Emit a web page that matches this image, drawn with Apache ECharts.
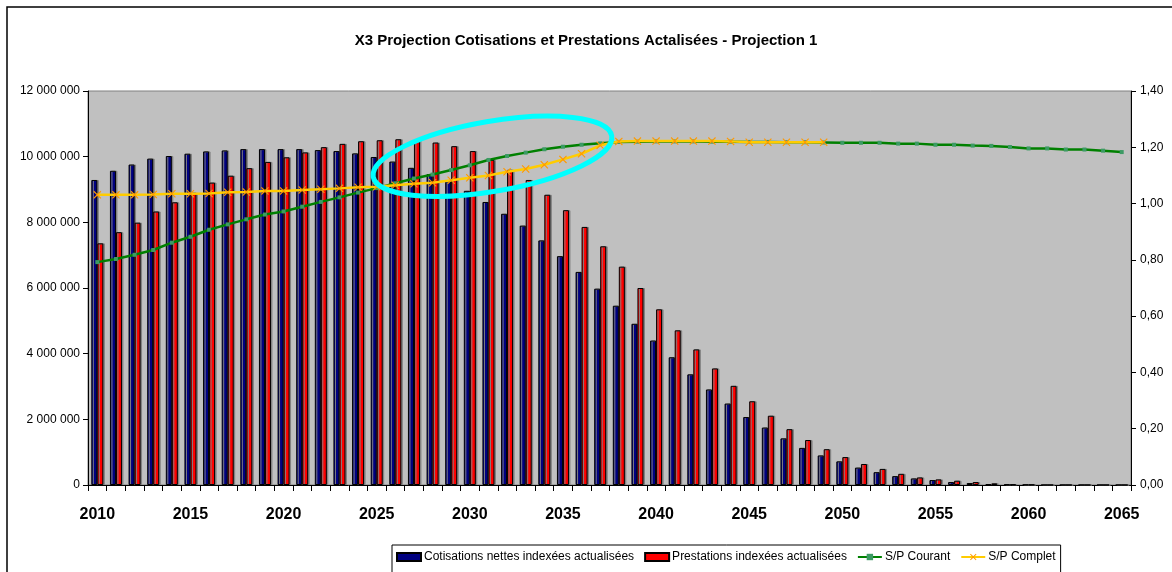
<!DOCTYPE html>
<html>
<head>
<meta charset="utf-8">
<title>X3 Projection Cotisations et Prestations</title>
<script src="https://cdn.jsdelivr.net/npm/echarts@6/dist/echarts.min.js"></script>
<style>
  html, body { margin: 0; padding: 0; background: #ffffff; }
  #chart { width: 1172px; height: 572px; }
</style>
</head>
<body>
<div id="chart"></div>
<script>
// Projection years
const years = [];
for (let y = 2010; y <= 2065; y++) years.push(String(y));

// Cotisations nettes indexées actualisées (in euros)
const cotisations = [
  9290000, 9570000, 9760000, 9940000, 10020000, 10090000, 10160000, 10190000, 10230000, 10230000,
  10230000, 10230000, 10200000, 10170000, 10100000, 9990000, 9850000, 9660000, 9470000, 9250000,
  8960000, 8620000, 8260000, 7900000, 7450000, 6970000, 6490000, 5980000, 5460000, 4910000,
  4400000, 3890000, 3370000, 2910000, 2480000, 2070000, 1750000, 1420000, 1130000, 900000,
  720000, 530000, 390000, 270000, 200000, 150000, 90000, 60000, 30000, 20000,
  10000, 0, 0, 0, 0, 0
];

// Prestations indexées actualisées (in euros)
const prestations = [
  7360000, 7700000, 7990000, 8330000, 8610000, 8900000, 9210000, 9420000, 9650000, 9840000,
  9980000, 10130000, 10290000, 10390000, 10470000, 10500000, 10530000, 10500000, 10430000, 10320000,
  10170000, 9900000, 9600000, 9290000, 8840000, 8370000, 7860000, 7270000, 6650000, 6000000,
  5350000, 4710000, 4130000, 3550000, 3020000, 2550000, 2110000, 1700000, 1370000, 1090000,
  850000, 640000, 490000, 340000, 230000, 170000, 130000, 90000, 50000, 20000,
  10000, 0, 0, 0, 0, 0
];

// S/P Courant ratio
const spCourant = [
  0.792, 0.803, 0.818, 0.835, 0.861, 0.882, 0.907, 0.926, 0.944, 0.961,
  0.972, 0.989, 1.006, 1.022, 1.039, 1.055, 1.072, 1.089, 1.103, 1.119,
  1.136, 1.155, 1.169, 1.181, 1.193, 1.202, 1.209, 1.214, 1.219, 1.220,
  1.221, 1.221, 1.221, 1.220, 1.220, 1.219, 1.219, 1.218, 1.218, 1.217,
  1.216, 1.216, 1.216, 1.213, 1.213, 1.209, 1.209, 1.206, 1.205, 1.201,
  1.196, 1.196, 1.192, 1.192, 1.188, 1.183
];

// S/P Complet ratio (computed up to 2049)
const spComplet = [
  1.031, 1.031, 1.031, 1.032, 1.035, 1.035, 1.036, 1.040, 1.041, 1.045,
  1.045, 1.048, 1.051, 1.054, 1.058, 1.060, 1.065, 1.070, 1.074, 1.083,
  1.092, 1.100, 1.113, 1.123, 1.138, 1.157, 1.177, 1.207, 1.221, 1.222,
  1.222, 1.222, 1.222, 1.222, 1.221, 1.218, 1.218, 1.218, 1.218, 1.218,
  null, null, null, null, null, null, null, null, null, null,
  null, null, null, null, null, null
];

const FONT = '"Liberation Sans", Arial, sans-serif';
const crossMarker = 'path://M0,1L1,0L5,4L9,0L10,1L6,5L10,9L9,10L5,6L1,10L0,9L4,5Z';

function formatThousands(v) {
  return String(Math.round(v)).replace(/\B(?=(\d{3})+(?!\d))/g, ' ');
}

const chart = echarts.init(document.getElementById('chart'), null, { renderer: 'canvas' });

const barStyle = (color) => ({
  color: color,
  borderColor: '#000000',
  borderWidth: 1,
  shadowColor: '#808080',
  shadowOffsetX: 1.5,
  shadowOffsetY: 0,
  shadowBlur: 0
});

chart.setOption({
  animation: false,
  backgroundColor: '#ffffff',
  title: {
    text: 'X3 Projection Cotisations et Prestations Actalisées - Projection 1',
    left: 'center',
    top: 28,
    textStyle: {
      fontFamily: FONT,
      fontSize: 15,
      fontWeight: 'bold',
      color: '#000000'
    }
  },
  grid: {
    left: 88,
    right: 41,
    top: 91,
    bottom: 87,
    show: true,
    backgroundColor: '#C0C0C0',
    borderColor: '#808080',
    borderWidth: 1,
    containLabel: false,
    outerBoundsMode: 'none'
  },
  legend: {
    left: 392,
    top: 545,
    orient: 'horizontal',
    borderColor: '#000000',
    borderWidth: 1,
    padding: [6, 5, 20, 4],
    itemGap: 10,
    itemWidth: 24,
    itemHeight: 8,
    textStyle: { fontFamily: FONT, fontSize: 12, color: '#000000', padding: [0, 0, 0, -2] },
    data: [
      { name: 'Cotisations nettes indexées actualisées', icon: 'rect' },
      { name: 'Prestations indexées actualisées', icon: 'rect' },
      { name: 'S/P Courant' },
      { name: 'S/P Complet' }
    ]
  },
  xAxis: {
    type: 'category',
    data: years,
    boundaryGap: true,
    axisLine: { lineStyle: { color: '#000000', width: 1 } },
    axisTick: { show: true, interval: 0, length: 6, lineStyle: { color: '#000000' } },
    axisLabel: {
      interval: 4,
      margin: 22,
      fontFamily: FONT,
      fontSize: 16,
      fontWeight: 'bold',
      color: '#000000'
    },
    splitLine: { show: false }
  },
  yAxis: [
    {
      type: 'value',
      min: 0,
      max: 12000000,
      interval: 2000000,
      axisLine: { show: true, lineStyle: { color: '#000000', width: 1 } },
      axisTick: { show: true, length: 5, lineStyle: { color: '#000000' } },
      axisLabel: {
        margin: 8,
        fontFamily: FONT,
        fontSize: 12,
        color: '#000000',
        formatter: (v) => formatThousands(v)
      },
      splitLine: { show: false }
    },
    {
      type: 'value',
      min: 0,
      max: 1.4,
      interval: 0.2,
      position: 'right',
      axisLine: { show: true, lineStyle: { color: '#000000', width: 1 } },
      axisTick: { show: true, length: 5, lineStyle: { color: '#000000' } },
      axisLabel: {
        margin: 9,
        fontFamily: FONT,
        fontSize: 12,
        color: '#000000',
        formatter: (v) => v.toFixed(2).replace('.', ',')
      },
      splitLine: { show: false }
    }
  ],
  series: [
    {
      name: 'Cotisations nettes indexées actualisées',
      type: 'bar',
      yAxisIndex: 0,
      data: cotisations,
      barWidth: 6,
      barGap: '0%',
      itemStyle: barStyle('#000080')
    },
    {
      name: 'Prestations indexées actualisées',
      type: 'bar',
      yAxisIndex: 0,
      data: prestations,
      barWidth: 6,
      barGap: '0%',
      itemStyle: barStyle('#FF0000')
    },
    {
      name: 'S/P Courant',
      type: 'line',
      yAxisIndex: 1,
      data: spCourant,
      symbol: 'rect',
      symbolSize: 4,
      showAllSymbol: true,
      lineStyle: { color: '#008000', width: 2.5 },
      itemStyle: { color: '#3C9A64', borderWidth: 0 },
      z: 3
    },
    {
      name: 'S/P Complet',
      type: 'line',
      yAxisIndex: 1,
      data: spComplet,
      symbol: crossMarker,
      symbolSize: 8,
      showAllSymbol: true,
      connectNulls: false,
      lineStyle: { color: '#FFCC00', width: 2.5 },
      itemStyle: { color: '#FF9900', borderWidth: 0 },
      z: 4
    }
  ]
});

// Highlight ring around the zone where the two ratios converge, anchored to the axes
const ringCenter = chart.convertToPixel({ xAxisIndex: 0, yAxisIndex: 1 }, ['2031', 1.168]);
chart.setOption({
  graphic: [
    {
      type: 'rect',
      x: 7,
      y: 7,
      shape: { x: 0, y: 0, width: 1200, height: 600 },
      style: { fill: null, stroke: '#000000', lineWidth: 1.5 },
      silent: true,
      z: 0
    },
    {
      type: 'ellipse',
      x: ringCenter[0] + 4,
      y: ringCenter[1],
      rotation: 0.17,
      shape: { cx: 0, cy: 0, rx: 121, ry: 35 },
      style: { fill: null, stroke: '#00FFFF', lineWidth: 5 },
      silent: true,
      z: 100
    }
  ]
});
</script>
</body>
</html>
